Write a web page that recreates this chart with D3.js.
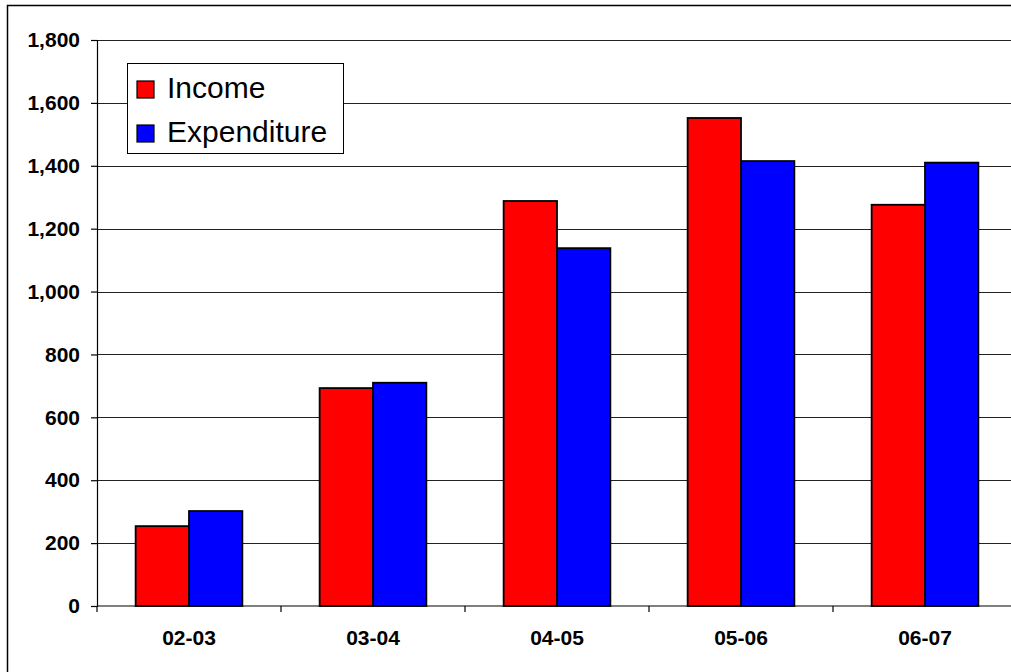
<!DOCTYPE html>
<html>
<head>
<meta charset="utf-8">
<script src="https://cdn.jsdelivr.net/npm/d3@7"></script>
<style>
  body { margin: 0; background: #fff; }
  svg { display: block; font-family: Arial, "Liberation Sans", sans-serif; }
</style>
</head>
<body>
<div id="chart"></div>
<script>
;(function () {

    var width = 1011
        , height = 672
        , margin = {left: 97, top: 40}
        , plotW = 920
        , plotH = 566;

    var years = ['02-03', '03-04', '04-05', '05-06', '06-07'];
    var income = [254, 693, 1288, 1552, 1276];
    var expenditure = [302, 710, 1138, 1415, 1410];
    var seriesNames = ['Income', 'Expenditure'];
    var seriesColors = ['#ff0000', '#0000ff'];
    var yTicks = [0, 200, 400, 600, 800, 1000, 1200, 1400, 1600, 1800];

    var svg = d3.select('#chart').append('svg')
        .attr('width', width)
        .attr('height', height);

    // outer chart border (runs off the right and bottom edge)
    svg.append('rect')
        .attr('x', 7.5).attr('y', 5.5)
        .attr('width', 1100).attr('height', 800)
        .attr('fill', 'none')
        .attr('stroke', '#000')
        .attr('stroke-width', 1.5);

    var g = svg.append('g')
        .attr('transform', 'translate(' + margin.left + ',' + margin.top + ')');

    var x = d3.scaleBand()
        .domain(years)
        .range([0, plotW])
        .paddingInner(0.42)
        .paddingOuter(0.21);

    var x1 = d3.scaleBand()
        .domain(seriesNames)
        .range([0, x.bandwidth()]);

    var y = d3.scaleLinear()
        .domain([0, 1800])
        .range([plotH, 0]);

    // gridlines
    g.selectAll('.grid')
        .data(yTicks.slice(1))
        .enter().append('line')
        .attr('class', 'grid')
        .attr('x1', 0).attr('x2', plotW)
        .attr('y1', function (d) { return Math.round(y(d)) + 0.5; })
        .attr('y2', function (d) { return Math.round(y(d)) + 0.5; })
        .attr('stroke', '#222')
        .attr('stroke-width', 1);

    // bars
    var rows = years.map(function (yr, i) {
        return {year: yr, values: [income[i], expenditure[i]]};
    });

    var groups = g.selectAll('.year')
        .data(rows)
        .enter().append('g')
        .attr('class', 'year')
        .attr('transform', function (d) { return 'translate(' + x(d.year) + ',0)'; });

    groups.selectAll('rect')
        .data(function (d) {
            return d.values.map(function (v, j) { return {name: seriesNames[j], value: v, color: seriesColors[j]}; });
        })
        .enter().append('rect')
        .attr('x', function (d) { return x1(d.name); })
        .attr('y', function (d) { return y(d.value); })
        .attr('width', x1.bandwidth())
        .attr('height', function (d) { return plotH - y(d.value); })
        .attr('fill', function (d) { return d.color; })
        .attr('stroke', '#000')
        .attr('stroke-width', 1.8);

    // y axis
    var yAxis = g.append('g')
        .call(d3.axisLeft(y).tickValues(yTicks).tickSize(6).tickPadding(11).tickFormat(d3.format(',')));
    yAxis.selectAll('text')
        .attr('font-size', 21)
        .attr('font-weight', 'bold')
        .attr('fill', '#000')
        .attr('font-family', 'Arial, "Liberation Sans", sans-serif');
    yAxis.selectAll('line, path').attr('stroke', '#000').attr('stroke-width', 1.2);

    // x axis: ticks at category boundaries
    var xAxisG = g.append('g').attr('transform', 'translate(0,' + plotH + ')');
    xAxisG.append('line')
        .attr('x1', 0).attr('x2', plotW)
        .attr('stroke', '#000').attr('stroke-width', 1.2);
    var step = x.step();
    xAxisG.selectAll('.xtick')
        .data(d3.range(years.length + 1))
        .enter().append('line')
        .attr('class', 'xtick')
        .attr('x1', function (d) { return d * step; })
        .attr('x2', function (d) { return d * step; })
        .attr('y1', 0).attr('y2', 6)
        .attr('stroke', '#000').attr('stroke-width', 1.2);
    xAxisG.selectAll('.xlabel')
        .data(years)
        .enter().append('text')
        .attr('class', 'xlabel')
        .attr('x', function (d) { return x(d) + x.bandwidth() / 2; })
        .attr('y', 39)
        .attr('text-anchor', 'middle')
        .attr('font-size', 21)
        .attr('font-weight', 'bold')
        .text(function (d) { return d; });

    // legend
    var legend = svg.append('g').attr('transform', 'translate(127,63)');
    legend.append('rect')
        .attr('x', 0.5).attr('y', 0.5)
        .attr('width', 216).attr('height', 90)
        .attr('fill', '#fff')
        .attr('stroke', '#000')
        .attr('stroke-width', 1);
    var items = legend.selectAll('.item')
        .data(seriesNames)
        .enter().append('g')
        .attr('class', 'item')
        .attr('transform', function (d, i) { return 'translate(10,' + (18 + i * 44) + ')'; });
    items.append('rect')
        .attr('width', 17).attr('height', 17)
        .attr('fill', function (d, i) { return seriesColors[i]; })
        .attr('stroke', '#000')
        .attr('stroke-width', 1.2);
    items.append('text')
        .attr('x', 30)
        .attr('y', 17)
        .attr('font-size', 30)
        .text(function (d) { return d; });

}());
</script>
</body>
</html>
